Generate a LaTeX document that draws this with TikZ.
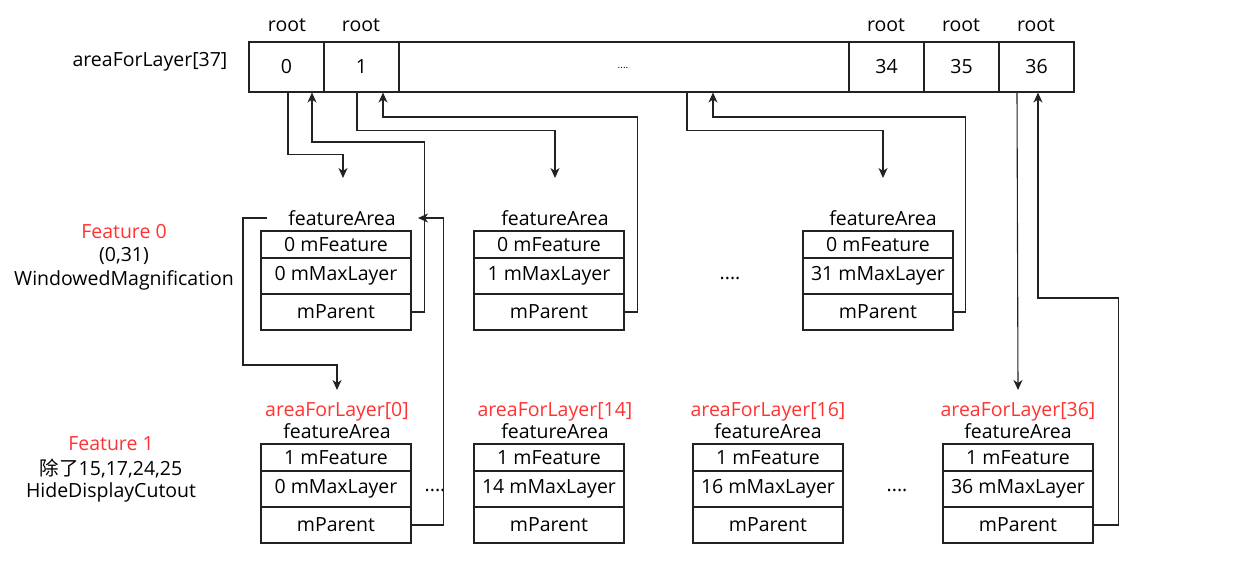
\documentclass[tikz,border=0pt]{standalone}
\usepackage{fontspec}
\setmainfont{Open Sans}
\newfontfamily\cjk{Noto Sans CJK SC}
\usetikzlibrary{arrows.meta}
\definecolor{redlbl}{HTML}{FF3333}
\definecolor{edge}{HTML}{222222}

% one featureArea record: name, centre x, top y, mFeature, mMaxLayer
\newcommand\faBox[5]{%
  \node[row, minimum height=27pt] (#1-f) at (#2,#3+13.5) {#4 mFeature};
  \node[row, minimum height=36pt] (#1-m) at (#2,#3+45) {#5 mMaxLayer};
  \node[row, minimum height=36pt] (#1-p) at (#2,#3+81) {mParent};
}

\begin{document}
\begin{tikzpicture}[x=1pt,y=-1pt,
  txt/.style={font=\fontsize{19.5}{22}\selectfont, inner sep=0pt, text=black},
  redtxt/.style={txt, text=redlbl},
  cell/.style={draw=edge, line width=1.1pt, minimum height=50pt, inner sep=0pt, txt},
  row/.style={draw=edge, line width=1.1pt, minimum width=150pt, inner sep=0pt, txt},
  arr/.style={draw=edge, line width=1.1pt, -{Stealth[length=10pt,width=9pt,inset=3pt]}}]

\useasboundingbox (0,0) rectangle (1253,570);

% the areaForLayer array
\node[txt] (arrname) at (150,62) {areaForLayer[37]};
\node[cell, minimum width=75pt] (c0) at (286.5,67) {0};
\node[cell, minimum width=75pt] (c1) at (361.5,67) {1};
\node[cell, minimum width=450pt] (cmid) at (624,67) {};
\node[font=\fontsize{10}{11}\selectfont, inner sep=0pt] (cdots) at (623,68) {....};
\node[cell, minimum width=75pt] (c34) at (886.5,67) {34};
\node[cell, minimum width=75pt] (c35) at (961.5,67) {35};
\node[cell, minimum width=75pt] (c36) at (1036.5,67) {36};
\foreach \n/\x in {r0/287, r1/361, r34/886, r35/961, r36/1036}
  \node[txt] (\n) at (\x,25) {root};

% Feature 0
\node[redtxt] (f0name) at (124,232) {Feature 0};
\node[txt] (f0range) at (124,256) {(0,31)};
\node[txt] (f0desc) at (124,280) {WindowedMagnification};

\node[txt] (faA) at (342,218) {featureArea};
\node[txt] (faB) at (555,218) {featureArea};
\node[txt] (faC) at (883,218) {featureArea};
\faBox{A}{336}{231}{0}{0}
\faBox{B}{549}{231}{0}{1}
\faBox{C}{878}{231}{0}{31}
\node[txt] (dotsTop) at (730,278) {....};

% Feature 1
\node[redtxt] (f1name) at (111,444) {Feature 1};
\node[txt] (f1range) at (111,468) {{\cjk 除了}15,17,24,25};
\node[txt] (f1desc) at (111,492) {HideDisplayCutout};

\foreach \n/\x/\k in {D/337/0, E/555/14, F/768/16, G/1018/36}{
  \node[redtxt] (al\n) at (\x,412) {areaForLayer[\k]};
  \node[txt] (fa\n) at (\x,431) {featureArea};
}
\faBox{D}{336}{444}{1}{0}
\faBox{E}{549}{444}{1}{14}
\faBox{F}{768}{444}{1}{16}
\faBox{G}{1018}{444}{1}{36}
\node[txt] (dotsD) at (435,490) {....};
\node[txt] (dotsF) at (897,490) {....};

% free ends of the connectors
\coordinate (tipA) at (343,178);
\coordinate (tipB) at (555,178);
\coordinate (tipC) at (883,178);
\coordinate (tipD) at (337,390);
\coordinate (tipG) at (1018,390);
\coordinate (faAleft) at (267,218);
\coordinate (faAright) at (418,218);

% root cells down to their featureArea
\draw[arr] ([xshift=1.5pt]c0.south) -- ++(0,62) -| (tipA);
\draw[arr] ([xshift=-4.5pt]c1.south) -- ++(0,38) -| (tipB);
\draw[arr] ([xshift=63pt]cmid.south) -- ++(0,38) -| (tipC);
\draw[arr] ([xshift=-19.5pt]c36.south) -- (tipG);

% mParent back up to the root cells
\draw[arr] (A-p.east) -| ++(13,-170) -| ([xshift=25.5pt]c0.south);
\draw[arr] (B-p.east) -| ++(13,-195) -| ([xshift=21.5pt]c1.south);
\draw[arr] (C-p.east) -| ++(12,-195) -| ([xshift=89pt]cmid.south);
\draw[arr] (G-p.east) -| ++(25,-227) -| ([xshift=1.5pt]c36.south);

% Feature 0 featureArea to areaForLayer[0], and its mParent back
\draw[arr] (faAleft) -- ++(-24,0) |- ++(94,147) -- (tipD);
\draw[arr] (D-p.east) -| ++(32,-307) -- (faAright);

\end{tikzpicture}
\end{document}
